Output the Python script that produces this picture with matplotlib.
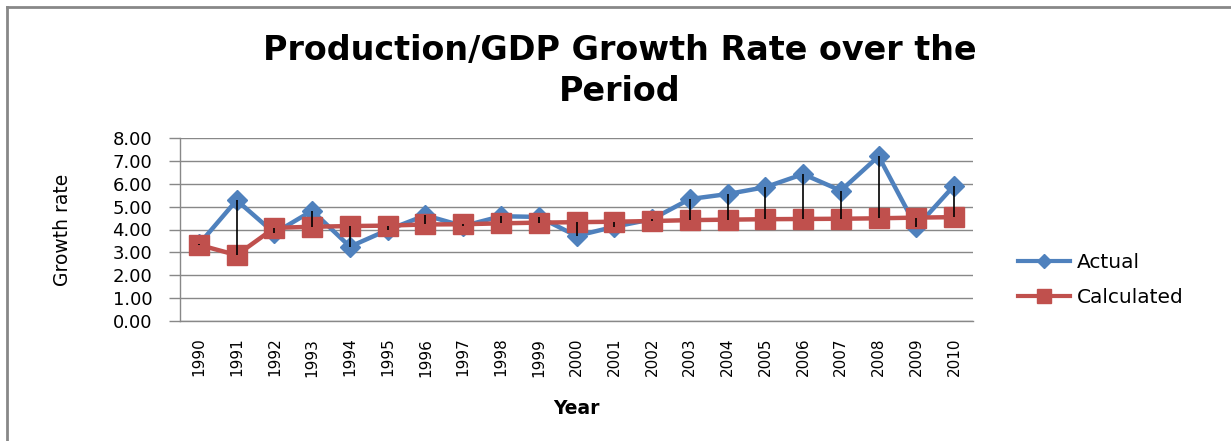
import numpy as np
import matplotlib.pyplot as plt
from matplotlib.lines import Line2D

years = [str(y) for y in range(1990, 2011)]
actual = [3.35, 5.28, 3.84, 4.82, 3.25, 3.98, 4.62, 4.15, 4.58, 4.55, 3.72,
          4.12, 4.45, 5.33, 5.55, 5.85, 6.42, 5.70, 7.20, 4.10, 5.92]
calculated = [3.33, 2.88, 4.07, 4.12, 4.15, 4.17, 4.22, 4.23, 4.27, 4.30, 4.32,
              4.34, 4.37, 4.41, 4.43, 4.45, 4.46, 4.47, 4.49, 4.52, 4.54]

blue = "#4F81BD"
red = "#C0504D"

fig = plt.figure(figsize=(12.31, 4.41), dpi=100)
ax = fig.add_axes([180 / 1231, 1 - 321 / 441, 793 / 1231, 183 / 441])

x = np.arange(len(years))
ax.plot(x, actual, color=blue, lw=3.2, marker="D", ms=10, zorder=3)
ax.plot(x, calculated, color=red, lw=3.2, marker="s", ms=14, zorder=4)
# high-low lines between the two series
ax.vlines(x, np.minimum(actual, calculated), np.maximum(actual, calculated),
          color="black", lw=1.2, zorder=5)

ax.set_xlim(-0.5, len(years) - 0.5)
ax.set_ylim(0, 8)
ax.set_yticks(np.arange(0, 9, 1), labels=[f"{v:.2f}" for v in range(9)])
ax.set_xticks(x, labels=years, rotation=90)
ax.tick_params(axis="x", length=0, pad=12, labelsize=11)
ax.tick_params(axis="y", length=8, width=1, color="#888888", pad=12, labelsize=13)
ax.grid(axis="y", color="#888888", lw=1)
ax.set_axisbelow(True)
for side in ["top", "right"]:
    ax.spines[side].set_visible(False)
for side in ["left", "bottom"]:
    ax.spines[side].set_color("#888888")
    ax.spines[side].set_linewidth(1)

ax.set_xlabel("Year", fontsize=13.5, fontweight="bold", labelpad=16)
fig.text(62 / 1231, 1 - 230 / 441, "Growth rate", rotation=90, ha="center", va="center",
         fontsize=13.5, fontweight="medium", family="DejaVu Sans")

fig.text(620 / 1231, 1 - 71 / 441, "Production/GDP Growth Rate over the\nPeriod",
         ha="center", va="center", fontsize=24, fontweight="bold", linespacing=1.3,
         family="DejaVu Sans")

handles = [Line2D([], [], color=blue, lw=3, marker="D", ms=7),
           Line2D([], [], color=red, lw=3, marker="s", ms=10)]
fig.legend(handles, ["Actual", "Calculated"], loc="center left",
           bbox_to_anchor=(1000 / 1231, 1 - 280 / 441), frameon=False,
           fontsize=14.5, handlelength=2.6, handletextpad=0.3, labelspacing=0.75)

# chart frame (left and top edges visible)
fig.add_artist(Line2D([7 / 1231, 7 / 1231], [0, 1 - 7 / 441], color="#888888", lw=2,
                      transform=fig.transFigure))
fig.add_artist(Line2D([7 / 1231, 1], [1 - 7 / 441, 1 - 7 / 441], color="#888888", lw=2,
                      transform=fig.transFigure))

fig.savefig("out.png", dpi=100)
